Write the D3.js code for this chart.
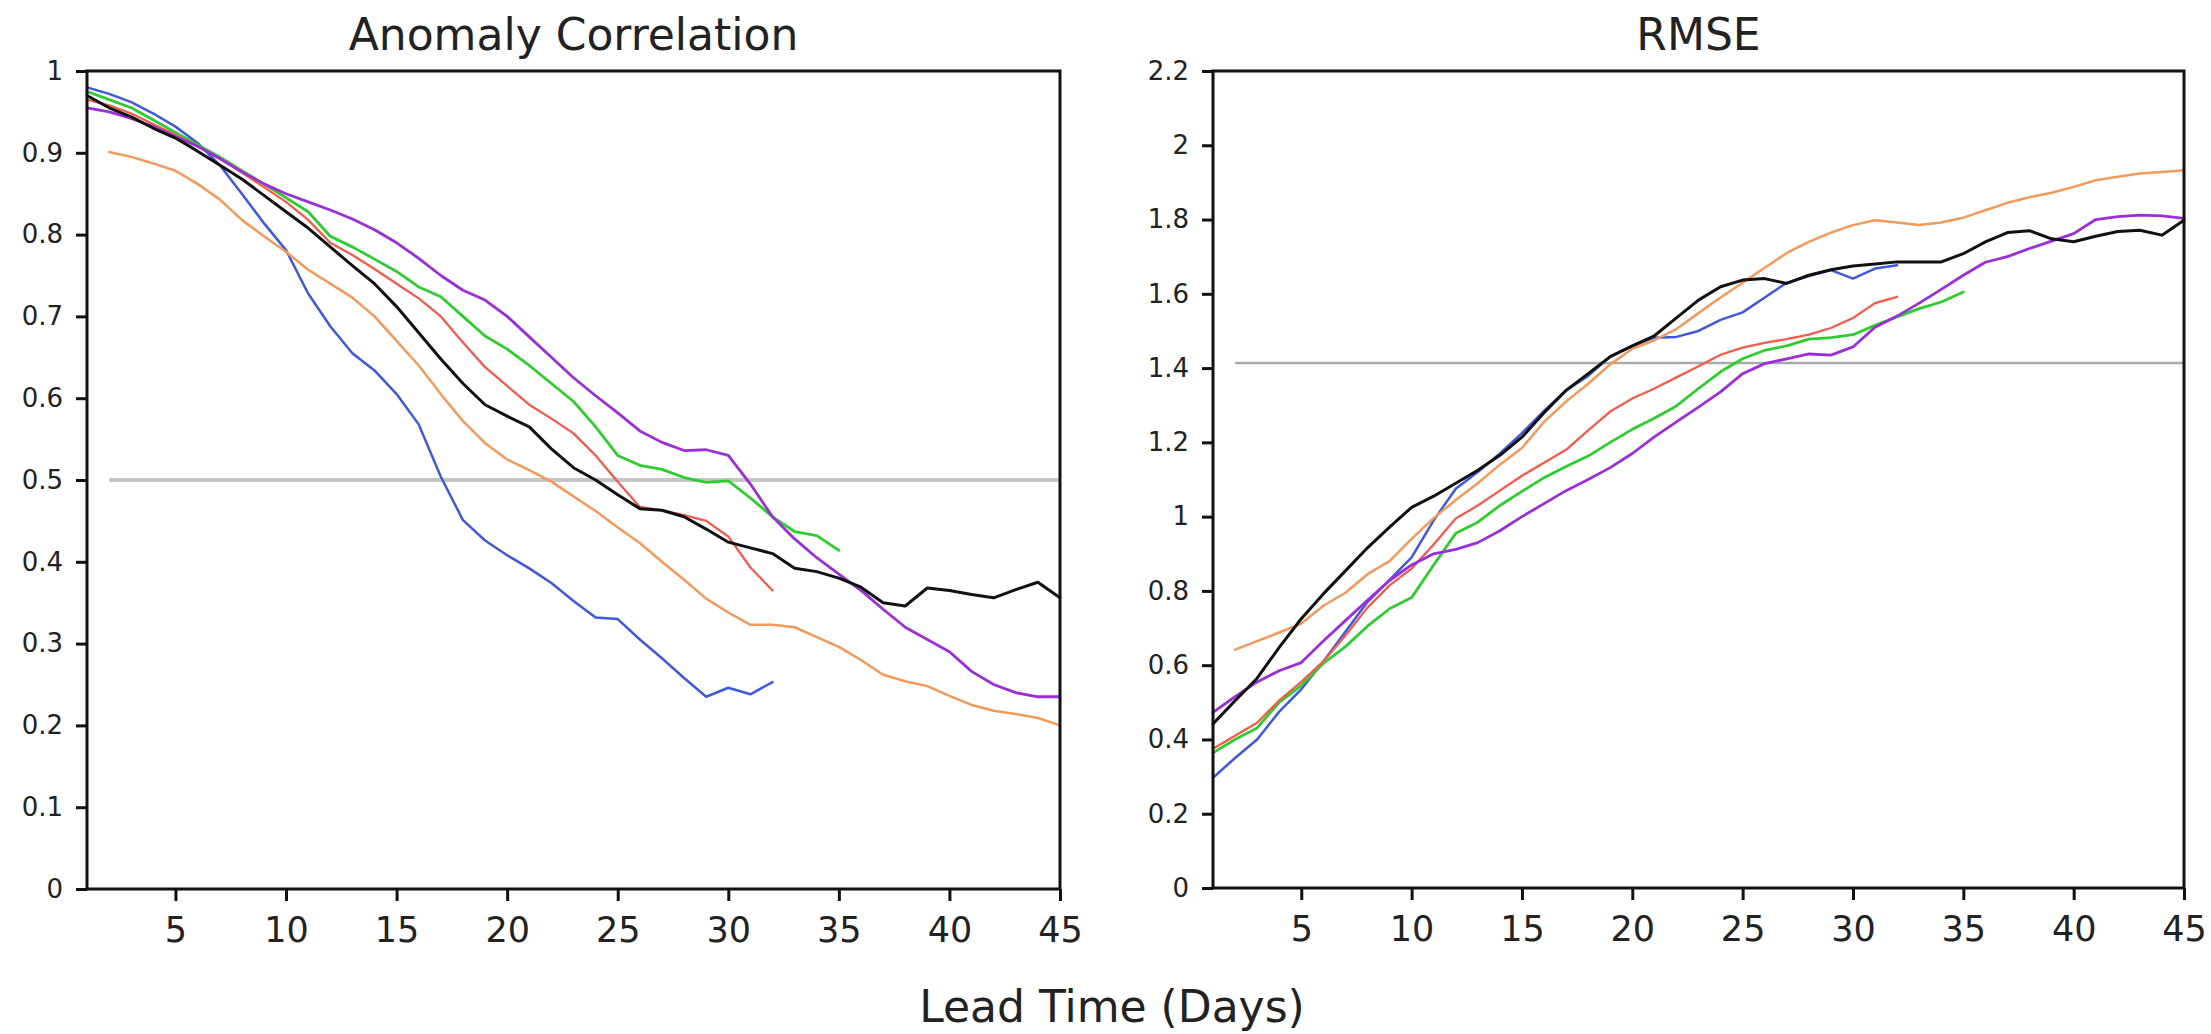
<!DOCTYPE html>
<html>
<head>
<meta charset="utf-8">
<script src="https://cdn.jsdelivr.net/npm/d3@7"></script>
<style>
  html, body { margin: 0; padding: 0; background: #fff; }
  svg { display: block; font-family: "DejaVu Sans", sans-serif; }
</style>
</head>
<body>
<svg id="chart" width="2211" height="1034"></svg>
<script>
// ---------- data ----------
const xTicks = [5, 10, 15, 20, 25, 30, 35, 40, 45];
const acTicks = [0, 0.1, 0.2, 0.3, 0.4, 0.5, 0.6, 0.7, 0.8, 0.9, 1];
const rmseTicks = [0, 0.2, 0.4, 0.6, 0.8, 1, 1.2, 1.4, 1.6, 1.8, 2, 2.2];
const panelTitles = ["Anomaly Correlation", "RMSE"];
const xLabel = "Lead Time (Days)";
const referenceValues = [0.5, 1.414];
const referenceStartDay = 2;
const seriesNames = ["blue", "orange", "green", "red", "purple", "black"];

// Anomaly correlation, value for lead day 1, 2, 3, ...
const acBlue = [0.980,0.972,0.962,0.948,0.932,0.912,0.885,0.850,0.814,0.781,0.728,0.688,0.655,0.634,0.605,0.568,0.504,0.451,0.426,0.408,0.392,0.374,0.352,0.332,0.330,0.305,0.282,0.258,0.235,0.246,0.238,0.253];
const acOrange = [null,0.901,0.895,0.887,0.878,0.862,0.843,0.818,0.798,0.779,0.757,0.740,0.723,0.700,0.670,0.640,0.605,0.572,0.545,0.525,0.512,0.498,0.480,0.462,0.442,0.423,0.400,0.378,0.355,0.338,0.323,0.323,0.320,0.308,0.296,0.280,0.262,0.254,0.248,0.236,0.225,0.218,0.214,0.209,0.200];
const acGreen = [0.975,0.965,0.955,0.940,0.925,0.910,0.895,0.878,0.862,0.845,0.828,0.798,0.785,0.770,0.755,0.736,0.724,0.700,0.676,0.660,0.640,0.618,0.596,0.565,0.530,0.518,0.513,0.503,0.497,0.499,0.478,0.455,0.437,0.432,0.414];
const acRed = [0.965,0.958,0.948,0.935,0.922,0.908,0.893,0.876,0.858,0.840,0.818,0.790,0.775,0.758,0.740,0.722,0.700,0.668,0.638,0.615,0.592,0.575,0.557,0.530,0.498,0.467,0.463,0.457,0.450,0.431,0.393,0.365];
const acPurple = [0.955,0.950,0.942,0.932,0.920,0.908,0.893,0.877,0.862,0.850,0.840,0.830,0.819,0.806,0.790,0.771,0.750,0.732,0.720,0.700,0.675,0.650,0.625,0.603,0.582,0.560,0.546,0.536,0.537,0.530,0.495,0.455,0.428,0.405,0.385,0.365,0.342,0.320,0.305,0.290,0.266,0.250,0.240,0.235,0.235];
const acBlack = [0.970,0.955,0.944,0.930,0.918,0.902,0.885,0.868,0.848,0.828,0.808,0.785,0.762,0.740,0.712,0.680,0.648,0.618,0.592,0.578,0.565,0.538,0.515,0.500,0.482,0.465,0.463,0.455,0.440,0.424,0.417,0.410,0.392,0.388,0.380,0.369,0.350,0.346,0.368,0.365,0.360,0.356,0.366,0.375,0.356];

// RMSE, value for lead day 1, 2, 3, ...
const rmseBlue = [0.297,0.350,0.400,0.475,0.535,0.610,0.690,0.770,0.830,0.890,0.990,1.075,1.120,1.170,1.225,1.285,1.340,1.379,1.431,1.460,1.482,1.484,1.500,1.530,1.550,1.590,1.630,1.648,1.664,1.641,1.668,1.677];
const rmseOrange = [null,0.642,0.665,0.688,0.712,0.760,0.795,0.845,0.880,0.940,0.996,1.045,1.090,1.140,1.185,1.255,1.310,1.358,1.410,1.452,1.475,1.505,1.548,1.590,1.630,1.670,1.710,1.740,1.765,1.785,1.798,1.792,1.785,1.792,1.805,1.825,1.845,1.860,1.872,1.888,1.906,1.915,1.924,1.928,1.933];
const rmseGreen = [0.364,0.400,0.431,0.500,0.545,0.605,0.650,0.705,0.752,0.782,0.870,0.955,0.985,1.030,1.068,1.105,1.135,1.163,1.200,1.235,1.265,1.298,1.345,1.390,1.425,1.448,1.460,1.478,1.482,1.490,1.515,1.538,1.560,1.578,1.605];
const rmseRed = [0.375,0.410,0.445,0.505,0.555,0.610,0.680,0.755,0.815,0.860,0.925,0.995,1.030,1.070,1.110,1.145,1.180,1.232,1.283,1.318,1.345,1.375,1.405,1.436,1.455,1.468,1.478,1.490,1.508,1.535,1.575,1.592];
const rmsePurple = [0.473,0.515,0.555,0.585,0.607,0.665,0.720,0.775,0.828,0.870,0.900,0.912,0.930,0.962,1.000,1.035,1.070,1.100,1.132,1.170,1.215,1.255,1.295,1.336,1.385,1.412,1.425,1.438,1.435,1.457,1.510,1.540,1.575,1.612,1.650,1.685,1.700,1.722,1.742,1.762,1.800,1.808,1.812,1.810,1.803];
const rmseBlack = [0.442,0.504,0.565,0.648,0.725,0.792,0.854,0.916,0.972,1.025,1.055,1.090,1.125,1.165,1.214,1.280,1.340,1.385,1.431,1.460,1.487,1.535,1.583,1.619,1.637,1.641,1.628,1.650,1.665,1.675,1.680,1.686,1.686,1.686,1.708,1.740,1.765,1.770,1.748,1.740,1.755,1.768,1.771,1.758,1.798];

// ---------- styling ----------
const colors = {blue: "#4058dc", orange: "#f29a5c", green: "#2fcc2f", red: "#f25c4c", purple: "#9a2fd6", black: "#111111"};
const widths = {blue: 2.5, orange: 2.5, green: 2.8, red: 2.3, purple: 2.8, black: 3};

const svg = d3.select("#chart");

const panels = [
  {title: panelTitles[0], x0: 87, x1: 1060, y0: 889, y1: 71, domain: [0, 1], ticks: acTicks,
   ref: referenceValues[0], refColor: "#c6c6c6", refWidth: 4,
   series: [acBlue, acOrange, acGreen, acRed, acPurple, acBlack]},
  {title: panelTitles[1], x0: 1213, x1: 2184, y0: 888, y1: 71, domain: [0, 2.2], ticks: rmseTicks,
   ref: referenceValues[1], refColor: "#aaaaaa", refWidth: 2.5,
   series: [rmseBlue, rmseOrange, rmseGreen, rmseRed, rmsePurple, rmseBlack]}
];

const fmt = d => String(+d.toFixed(1));

panels.forEach(p => {
  const x = d3.scaleLinear().domain([1, 45]).range([p.x0, p.x1]);
  const y = d3.scaleLinear().domain(p.domain).range([p.y0, p.y1]);
  const g = svg.append("g");

  // reference line
  g.append("line")
    .attr("x1", x(referenceStartDay)).attr("x2", x(45))
    .attr("y1", y(p.ref)).attr("y2", y(p.ref))
    .attr("stroke", p.refColor).attr("stroke-width", p.refWidth);

  // series
  const line = d3.line()
    .defined(d => d.v != null)
    .x(d => x(d.day))
    .y(d => y(d.v));
  p.series.forEach((arr, i) => {
    const name = seriesNames[i];
    const pts = arr.map((v, k) => ({day: k + 1, v: v}));
    g.append("path")
      .datum(pts)
      .attr("fill", "none")
      .attr("stroke", colors[name])
      .attr("stroke-width", widths[name])
      .attr("stroke-linejoin", "round")
      .attr("stroke-linecap", "round")
      .attr("d", line);
  });

  // axes
  const yAxis = g.append("g")
    .attr("transform", `translate(${p.x0},0)`)
    .call(d3.axisLeft(y).tickValues(p.ticks).tickFormat(fmt).tickSize(11).tickPadding(13));
  yAxis.select(".domain").remove();
  yAxis.selectAll(".tick line").attr("stroke", "#111").attr("stroke-width", 3);
  yAxis.selectAll(".tick text").attr("font-size", 26).attr("fill", "#222")
    .attr("font-family", "DejaVu Sans");

  const xAxis = g.append("g")
    .attr("transform", `translate(0,${p.y0})`)
    .call(d3.axisBottom(x).tickValues(xTicks).tickSize(12).tickPadding(16));
  xAxis.select(".domain").remove();
  xAxis.selectAll(".tick line").attr("stroke", "#111").attr("stroke-width", 3);
  xAxis.selectAll(".tick text").attr("font-size", 35).attr("fill", "#222")
    .attr("font-family", "DejaVu Sans");

  // frame
  g.append("rect")
    .attr("x", p.x0).attr("y", p.y1)
    .attr("width", p.x1 - p.x0).attr("height", p.y0 - p.y1)
    .attr("fill", "none").attr("stroke", "#111").attr("stroke-width", 3);

  // title
  g.append("text")
    .attr("x", (p.x0 + p.x1) / 2).attr("y", 50)
    .attr("text-anchor", "middle")
    .attr("font-size", 44).attr("fill", "#222")
    .text(p.title);
});

svg.append("text")
  .attr("x", 1112).attr("y", 1022)
  .attr("text-anchor", "middle")
  .attr("font-size", 44).attr("fill", "#222")
  .text(xLabel);
</script>
</body>
</html>
